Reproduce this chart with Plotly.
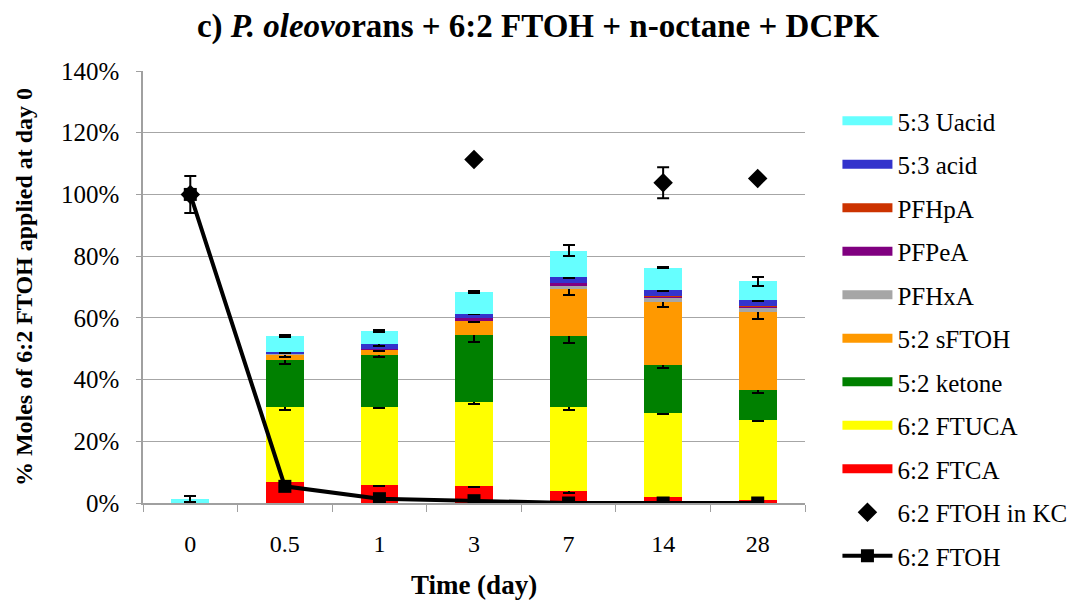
import plotly.graph_objects as go

categories = ["0", "0.5", "1", "3", "7", "14", "28"]

# stacked components (% of 6:2 FTOH applied at day 0), bottom to top
ftca = [None, 6.7, 5.9, 5.4, 4.0, 2.0, 1.0]
ftuca = [None, 24.4, 25.2, 27.2, 27.1, 27.2, 26.0]
ketone = [None, 15.1, 16.9, 21.7, 22.9, 15.4, 9.7]
sftoh = [None, 2.0, 1.7, 4.9, 15.5, 20.6, 25.2]
pfhxa = [None, 0.1, 0.1, 0.1, 0.7, 1.3, 1.5]
pfpea = [None, 0.1, 0.1, 0.5, 1.1, 0.5, 0.3]
pfhpa = [None, 0.0, 0.0, 0.0, 0.0, 0.1, 0.2]
acid53 = [None, 0.6, 1.6, 1.6, 2.0, 1.8, 2.0]
uacid53 = [1.3, 5.2, 4.2, 7.0, 8.5, 7.4, 6.0]

# error bars (half-width)
ftca_err = [None, 0.4, 0.3, 0.3, 0.8, 0.9, 0.2]
ftuca_err = [None, 0.9, 0.3, 0.4, 0.8, 0.3, 0.5]
ketone_err = [None, 1.0, 0.6, 2.0, 2.3, 1.0, 1.1]
sftoh_err = [None, 1.0, 0.5, 0.4, 2.1, 1.7, 2.4]
acid53_err = [None, 0.3, 0.5, 0.3, 0.5, 0.3, 0.3]
uacid53_err = [1.0, 0.3, 0.3, 0.3, 1.7, 0.3, 1.5]

ftoh = [100.0, 5.4, 1.4, 0.75, 0.0, 0.0, 0.0]
ftoh_err = [6.0, 0.3, 0.3, 0.2, 0.1, 0.1, 0.1]
ftoh_kc = [100.0, None, None, 111.3, None, 103.8, 105.2]
ftoh_kc_err = [0.0, None, None, 0.0, None, 5.0, 0.0]

series = [
    ("6:2 FTCA", ftca, ftca_err, "#FF0000"),
    ("6:2 FTUCA", ftuca, ftuca_err, "#FFFF00"),
    ("5:2 ketone", ketone, ketone_err, "#008000"),
    ("5:2 sFTOH", sftoh, sftoh_err, "#FF9900"),
    ("PFHxA", pfhxa, None, "#A6A6A6"),
    ("PFPeA", pfpea, None, "#800080"),
    ("PFHpA", pfhpa, None, "#CC3300"),
    ("5:3 acid", acid53, acid53_err, "#3333CC"),
    ("5:3 Uacid", uacid53, uacid53_err, "#66FFFF"),
]

FONT = "Liberation Serif"
fig = go.Figure()
n = len(series)
for i, (name, vals, err, col) in enumerate(series):
    rank = (n - i) * 10
    kw = {}
    if err is not None:
        kw["error_y"] = dict(type="data", array=err, visible=True,
                             color="black", thickness=2, width=6)
    fig.add_trace(go.Bar(x=categories, y=vals, name=name, marker_color=col,
                         marker_line_width=0, legendgroup=name,
                         showlegend=False, **kw))
    fig.add_trace(go.Scatter(x=[None], y=[None], mode="lines", name=name,
                             line=dict(color=col, width=9), legendgroup=name,
                             legendrank=rank, showlegend=True))

fig.add_trace(go.Scatter(x=categories, y=ftoh_kc, mode="markers",
                         name="6:2 FTOH in KC", legendgroup="kc", legendrank=200,
                         marker=dict(symbol="diamond", size=15, color="black"),
                         error_y=dict(type="data", array=ftoh_kc_err, color="black",
                                      thickness=2, width=6)))
fig.add_trace(go.Scatter(x=categories, y=ftoh, mode="lines+markers",
                         name="6:2 FTOH", legendgroup="ftoh", legendrank=210,
                         line=dict(color="black", width=4),
                         marker=dict(symbol="square", size=13, color="black"),
                         error_y=dict(type="data", array=ftoh_err, color="black",
                                      thickness=2, width=6)))

fig.update_layout(
    width=1089, height=605,
    barmode="stack", bargap=0.6,
    plot_bgcolor="white", paper_bgcolor="white",
    margin=dict(l=143, r=284, t=71, b=102),
    font=dict(family=FONT, color="black", size=21),
    title=dict(text="<b>c) <i>P. oleovo</i>rans + 6:2 FTOH + n-octane + DCPK</b>",
               x=538 / 1089, xanchor="center", y=1 - 25 / 605, yanchor="middle",
               font=dict(family=FONT, size=33, color="black")),
    legend=dict(x=1.049, xanchor="left", y=0.9375, yanchor="top",
                font=dict(family=FONT, size=25, color="black"),
                tracegroupgap=8, itemwidth=50, bgcolor="rgba(0,0,0,0)",
                maxheight=600),
    xaxis=dict(type="category", tickson="boundaries", ticks="outside", ticklen=7,
               tickcolor="#A0A0A0", showline=True, linecolor="#A0A0A0", linewidth=1.5,
               showgrid=False, ticklabelstandoff=18, automargin=False,
               tickfont=dict(family=FONT, size=24),
               title=dict(text="<b>Time (day)</b>", font=dict(family=FONT, size=27),
                          standoff=20)),
    yaxis=dict(range=[0, 140], dtick=20, ticksuffix="%", ticks="outside", ticklen=5,
               tickcolor="#A0A0A0", showline=True, linecolor="#A0A0A0", linewidth=1.5,
               showgrid=True, gridcolor="#A6A6A6", gridwidth=1.3, zeroline=False,
               ticklabelstandoff=12, automargin=False,
               tickfont=dict(family=FONT, size=25),
               title=dict(text="<b>% Moles of 6:2 FTOH applied at day 0</b>",
                          font=dict(family=FONT, size=24), standoff=22)),
)

fig.write_html("out.html", config={"displayModeBar": False},
               post_script="document.body.style.margin='0';document.body.style.padding='0';")
